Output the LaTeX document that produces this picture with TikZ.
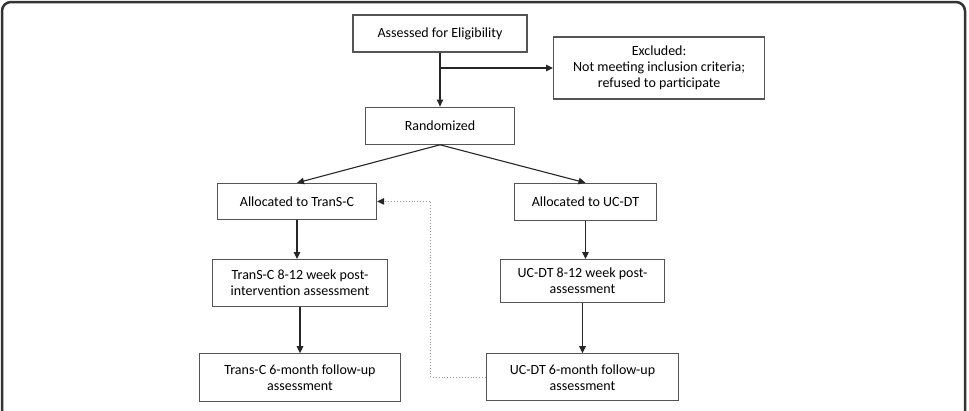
\documentclass[tikz,border=0pt]{standalone}
\usepackage{fontspec}
\setmainfont{Carlito}
\usetikzlibrary{positioning, arrows.meta}
\definecolor{boxLine}{HTML}{555555}
\definecolor{frameLine}{HTML}{333333}

\begin{document}
\begin{tikzpicture}[x=1pt, y=-1pt,
  box/.style={draw=boxLine, line width=1.2pt, align=center, font=\fontsize{14}{16}\selectfont, text=black, inner sep=2pt},
  arr/.style={draw=black!85, line width=1.1pt, -{Triangle[length=7pt,width=6.5pt]}},
  link/.style={draw=gray!80, dotted, line width=0.9pt, -{Triangle[length=7pt,width=6.5pt,color=black!85]}}
]
\useasboundingbox (0,0) rectangle (969,410);
\begin{scope}
  \clip (0,0) rectangle (969,410);
  \draw[frameLine, line width=2.5pt, rounded corners=9pt] (2,2) rectangle (965,430);
\end{scope}

\node[box, minimum width=174pt, minimum height=37pt] (elig) at (440,33.5) {Assessed for Eligibility};
\node[box, minimum width=211pt, minimum height=62pt, anchor=west] (excl) at (553,68) {Excluded:\\Not meeting inclusion criteria;\\refused to participate};
\node[box, minimum width=149pt, minimum height=37pt, below=54pt of elig] (rand) {Randomized};

\node[box, minimum width=159pt, minimum height=36pt, below=38pt of rand, xshift=-143pt] (transAlloc) {Allocated to TranS-C};
\node[box, minimum width=142pt, minimum height=37pt, below=38pt of rand, xshift=145.5pt] (ucAlloc) {Allocated to UC-DT};

\node[box, minimum width=175pt, minimum height=47pt, below=39pt of transAlloc, xshift=3pt] (transPost) {TranS-C 8-12 week post-\\intervention assessment};
\node[box, minimum width=164pt, minimum height=43pt, below=38pt of ucAlloc, xshift=-3pt] (ucPost) {UC-DT 8-12 week post-\\assessment};

\node[box, minimum width=201pt, minimum height=48pt, below=46pt of transPost] (transFollow) {Trans-C 6-month follow-up\\assessment};
\node[box, minimum width=192pt, minimum height=47pt, below=50pt of ucPost] (ucFollow) {UC-DT 6-month follow-up\\assessment};

\draw[arr] (elig) -- (rand);
\draw[arr] (elig.south |- excl.west) -- (excl.west);
\draw[arr] (rand.south) -- (transAlloc.north);
\draw[arr] (rand.south) -- (ucAlloc.north);
\draw[arr] (transAlloc) -- (transAlloc |- transPost.north);
\draw[arr] (ucAlloc) -- (ucAlloc |- ucPost.north);
\draw[arr] (transPost) -- (transPost |- transFollow.north);
\draw[arr] (ucPost) -- (ucPost |- ucFollow.north);
\draw[link] (ucFollow.west) -- ++(-55,0) |- (transAlloc.east);
\end{tikzpicture}
\end{document}
